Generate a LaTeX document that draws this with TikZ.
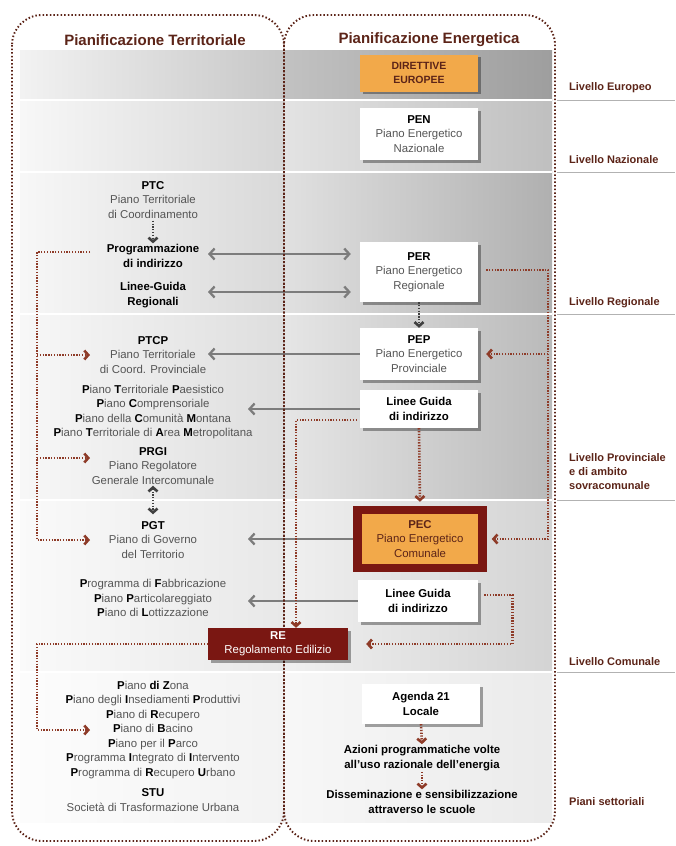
\documentclass[tikz,border=0pt]{standalone}
\usepackage{fontspec}
\setmainfont{Liberation Sans}
\usepackage{tikz}
\usetikzlibrary{positioning, arrows.meta, shadows, calc}

\definecolor{bordo}{HTML}{5C2418}
\definecolor{mattone}{HTML}{8E3B28}
\definecolor{arancio}{HTML}{F2A94A}
\definecolor{rossoRE}{HTML}{7A1712}
\definecolor{grigiotesto}{HTML}{555555}
\definecolor{grigiofreccia}{HTML}{7C7C7C}
\newcommand{\iniz}[1]{\textbf{\color{black}#1}}

\pgfdeclarelayer{sfondo}
\pgfdeclarelayer{frecce}
\pgfsetlayers{sfondo,frecce,main}

\tikzset{
  voce/.style={align=center, text=grigiotesto, inner sep=1pt,
    font=\fontsize{11.4}{14.5}\selectfont},
  vocebold/.style={voce, text=black, font=\fontsize{11.4}{14.5}\selectfont\bfseries},
  scatola/.style={voce, fill=white, minimum width=118pt,
    drop shadow={shadow xshift=2.5pt, shadow yshift=-2.5pt, fill=black, opacity=.35}},
  titolo/.style={text=bordo, font=\fontsize{15}{18}\selectfont\bfseries},
  livello/.style={anchor=west, align=left, inner sep=0pt, text=bordo,
    font=\fontsize{11}{14}\selectfont\bfseries},
  cornice/.style={draw=bordo, line width=1.9pt, dash pattern=on 1.5pt off 2.1pt,
    rounded corners=30pt},
  grigia/.style={draw=grigiofreccia, line width=2.3pt},
  punteggiata/.style={draw=mattone, line width=2.6pt, dash pattern=on 1.3pt off 1.5pt,
    >={Straight Barb[length=4pt,width=9pt]}},
  nera/.style={punteggiata, draw=black!75}
}

\begin{document}
\begin{tikzpicture}[x=1pt,y=-1pt,>={Straight Barb[length=5pt,width=11pt]}]
\useasboundingbox (0,0) rectangle (675,846);

% fasce dei livelli
\begin{pgfonlayer}{sfondo}
\path[fill][white] (0,0) rectangle (675,846);
\foreach \ya/\yb/\ta/\tb/\ea/\eb in {50/100/5/22/24/38, 100/172/3/16/11/25,
    172/314/3/15/12/31, 314/500/3/13/10/27, 500/672/2/9/6/17, 672/822/1/5/3/8}{
  \shade[left color=black!\ta, right color=black!\tb] (20,\ya) rectangle (284,\yb);
  \shade[left color=black!\ea, right color=black!\eb] (284,\ya) rectangle (552,\yb);
}
\foreach \y in {100,172,314,500,672}{
  \path[draw][white,line width=1.5pt] (20,\y) -- (552,\y);
  \path[draw][black!30,line width=0.6pt] (557,\y) -- (675,\y);
}
\end{pgfonlayer}

\path[draw][cornice] (12,15) rectangle (284,841);
\path[draw][cornice] (284,15) rectangle (555,841);

\node[titolo] (tTer) at (155,40) {Pianificazione Territoriale};
\node[titolo] (tEne) at (429,40) {Pianificazione Energetica};

\node[livello] (lEur) at (569,88) {Livello Europeo};
\node[livello] (lNaz) at (569,160) {Livello Nazionale};
\node[livello] (lReg) at (569,303) {Livello Regionale};
\node[livello] (lPro) at (569,472) {Livello Provinciale\\e di ambito\\sovracomunale};
\node[livello] (lCom) at (569,662) {Livello Comunale};
\node[livello] (lSet) at (569,802) {Piani settoriali};

% colonna energetica
\node[scatola, fill=arancio, minimum height=37pt, text=bordo,
  font=\fontsize{10.5}{14}\selectfont\bfseries] (dir) at (419,73) {DIRETTIVE\\EUROPEE};
\node[scatola, minimum height=52pt] (pen) at (419,134) {\iniz{PEN}\\Piano Energetico\\Nazionale};
\node[scatola, minimum height=60pt] (per) at (419,272) {\iniz{PER}\\Piano Energetico\\Regionale};
\node[scatola, minimum height=52pt] (pep) at (419,354) {\iniz{PEP}\\Piano Energetico\\Provinciale};
\node[scatola, minimum height=38pt, text=black,
  font=\fontsize{11.4}{14.5}\selectfont\bfseries] (lgp) at (419,409) {Linee Guida\\di indirizzo};
\node[voce, fill=arancio, draw=rossoRE, line width=8.5pt, minimum width=125pt,
  minimum height=58pt, text=bordo] (pec) at (420,539) {\textbf{PEC}\\Piano Energetico\\Comunale};
\node[scatola, minimum width=120pt, minimum height=42pt, text=black,
  font=\fontsize{11.4}{14.5}\selectfont\bfseries] (lgc) at (418,601) {Linee Guida\\di indirizzo};
\node[voce, fill=rossoRE, text=white, minimum width=140pt, minimum height=32pt,
  drop shadow={shadow xshift=2.5pt, shadow yshift=-2.5pt, fill=black, opacity=.35}]
  (re) at (278,644) {\textbf{RE}\\Regolamento Edilizio};
\node[scatola, minimum height=40pt, text=black,
  font=\fontsize{11.4}{14.5}\selectfont\bfseries] (ag) at (421,704) {Agenda 21\\Locale};
\node[vocebold] (azi) at (422,758) {Azioni programmatiche volte\\all'uso razionale dell'energia};
\node[vocebold] (dis) at (422,802) {Disseminazione e sensibilizzazione\\attraverso le scuole};

% colonna territoriale
\node[voce] (ptc) at (153,200) {\iniz{PTC}\\Piano Territoriale\\di Coordinamento};
\node[vocebold] (prog) at (153,256) {Programmazione\\di indirizzo};
\node[vocebold] (lgr) at (153,295) {Linee-Guida\\Regionali};
\node[voce] (ptcp) at (153,355) {\iniz{PTCP}\\Piano Territoriale\\di Coord. Provinciale};
\node[voce] (ppro) at (153,412) {\iniz{P}iano \iniz{T}erritoriale \iniz{P}aesistico\\
  \iniz{P}iano \iniz{C}omprensoriale\\\iniz{P}iano della \iniz{C}omunità \iniz{M}ontana\\
  \iniz{P}iano \iniz{T}erritoriale di \iniz{A}rea \iniz{M}etropolitana};
\node[voce] (prgi) at (153,466) {\iniz{PRGI}\\Piano Regolatore\\Generale Intercomunale};
\node[voce] (pgt) at (153,540) {\iniz{PGT}\\Piano di Governo\\del Territorio};
\node[voce] (pcom) at (153,598) {\iniz{P}rogramma di \iniz{F}abbricazione\\
  \iniz{P}iano \iniz{P}articolareggiato\\\iniz{P}iano di \iniz{L}ottizzazione};
\node[voce] (pset) at (153,730) {\iniz{P}iano \iniz{di Z}ona\\
  \iniz{P}iano degli \iniz{I}nsediamenti \iniz{P}roduttivi\\\iniz{P}iano di \iniz{R}ecupero\\
  \iniz{P}iano di \iniz{B}acino\\\iniz{P}iano per il \iniz{P}arco\\
  \iniz{P}rogramma \iniz{I}ntegrato di \iniz{I}ntervento\\
  \iniz{P}rogramma di \iniz{R}ecupero \iniz{U}rbano};
\node[voce] (stu) at (153,800) {\iniz{STU}\\Società di Trasformazione Urbana};

\coordinate (sx) at (208,0);
\coordinate (sx2) at (248,0);
\coordinate (lx) at (37,0);
\coordinate (tx) at (90,0);
\coordinate (rx) at (548,0);

% frecce grigie
\begin{pgfonlayer}{frecce}
\path[draw][grigia,<->,shorten >=9pt] ($(prog -| sx)+(0,-2)$) -- ($(prog -| per.west)+(0,-2)$);
\path[draw][grigia,<->,shorten >=9pt] ($(lgr -| sx)+(0,-3)$) -- ($(lgr -| per.west)+(0,-3)$);
\path[draw][grigia,->] (pep.west) -- (pep.west -| sx);
\path[draw][grigia,->] (lgp.west) -- (lgp.west -| sx2);
\path[draw][grigia,->] (pec.west) -- (pec.west -| sx2);
\path[draw][grigia,->] (lgc.west) -- (lgc.west -| sx2);
\end{pgfonlayer}

% frecce punteggiate
\path[draw][punteggiata,->] ($(prog.west -| tx)+(0,-4)$) -| (lx |- pgt) -- (pgt -| tx);
\path[draw][punteggiata,->] (lx |- ptcp) -- (ptcp -| tx);
\path[draw][punteggiata,->] ($(lx |- prgi)+(0,-8)$) -- ($(prgi -| tx)+(0,-8)$);
\path[draw][punteggiata,->,shorten <=8pt,shorten >=5pt] ($(per.east)+(0,-2)$) -| (rx |- pec) -- (pec.east);
\path[draw][punteggiata,->,shorten >=8pt] (rx |- pep) -- (pep.east);
\path[draw][punteggiata,->,shorten <=3pt] ($(lgp.west)+(0,11)$) -| ($(re.north)+(18,0)$);
\path[draw][punteggiata,->,shorten >=4pt] (lgp.south) -- (pec.north);
\path[draw][nera,->] (per.south) -- (pep.north);
\path[draw][punteggiata,->,shorten <=6pt,shorten >=18pt] ($(lgc.east)+(0,-6)$) -- ++(34,0) |- (re.east);
\path[draw][punteggiata,->] (re.west) -| (lx |- pset) -- (pset -| tx);
\path[draw][nera,->,shorten <=1pt] (ptc.south) -- (prog.north);
\path[draw][nera,<->,shorten >=6pt] (prgi.south) -- (pgt.north);
\path[draw][punteggiata,->] (ag.south) -- (azi.north);
\path[draw][punteggiata,->] (azi.south) -- (dis.north);
\end{tikzpicture}
\end{document}
